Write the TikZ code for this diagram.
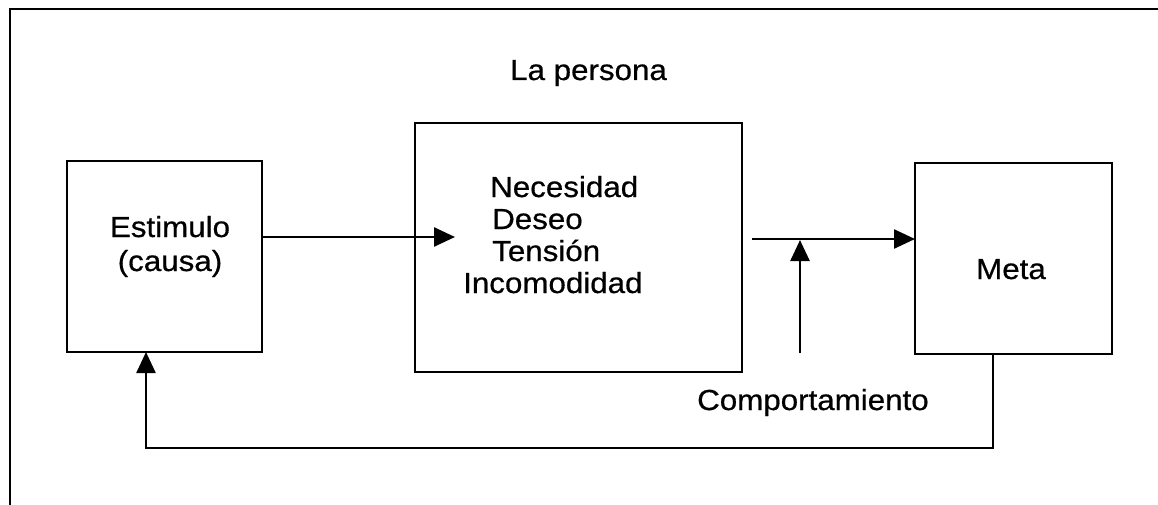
\documentclass[tikz,border=0pt]{standalone}
\usepackage{fontspec}
\setmainfont{Liberation Sans}[FakeStretch=1.08,FakeBold=0.6]
\usetikzlibrary{arrows.meta}
\tikzset{
  boxline/.style={line width=2.5pt},
  frameline/.style={line width=2.8pt},
  conn/.style={line width=2.5pt,-{Triangle[length=21pt,width=19pt]}},
  lbl/.style={inner sep=0pt,font=\fontsize{29}{32}\selectfont},
}
\begin{document}
\begin{tikzpicture}[x=1pt,y=-1pt]
\useasboundingbox (0,0) rectangle (1158,505);
% frame (top and left only)
\draw[frameline] (10,505) -- (10,9) -- (1158,9);
% boxes
\draw[boxline] (67,161) rectangle (262,352);
\draw[boxline] (415,123) rectangle (742,372);
\draw[boxline] (915,163) rectangle (1112,354);
\coordinate (estE) at (262,237);
\coordinate (estS) at (146,352);
\coordinate (midIn) at (455,237);
\coordinate (midOut) at (752,239);
\coordinate (metaW) at (915,239);
\coordinate (metaS) at (993,354);
\coordinate (cb) at (800,353);
\coordinate (ct) at (800,240);
\coordinate (fb1) at (993,448);
\coordinate (fb2) at (146,448);
% texts
\node[lbl,anchor=base west] (lp) at (510,80) {La persona};
\node[lbl,anchor=base] (e1) at (170,237) {Estimulo};
\node[lbl,anchor=base] (e2) at (170,271) {(causa)};
\node[lbl,anchor=base west] (n1) at (490,197) {Necesidad};
\node[lbl,anchor=base west] (n2) at (492,229) {Deseo};
\node[lbl,anchor=base west] (n3) at (492,261) {Tensión};
\node[lbl,anchor=base west] (n4) at (463,293) {Incomodidad};
\node[lbl,anchor=base] (m) at (1011,279) {Meta};
\node[lbl,anchor=base west] (cp) at (697,410) {Comportamiento};
% connectors
\draw[conn] (estE) -- (midIn);
\draw[conn] (midOut) -- (metaW);
\draw[conn] (cb) -- (ct);
\draw[conn] (metaS) -- (fb1) -- (fb2) -- (estS);
\end{tikzpicture}
\end{document}
